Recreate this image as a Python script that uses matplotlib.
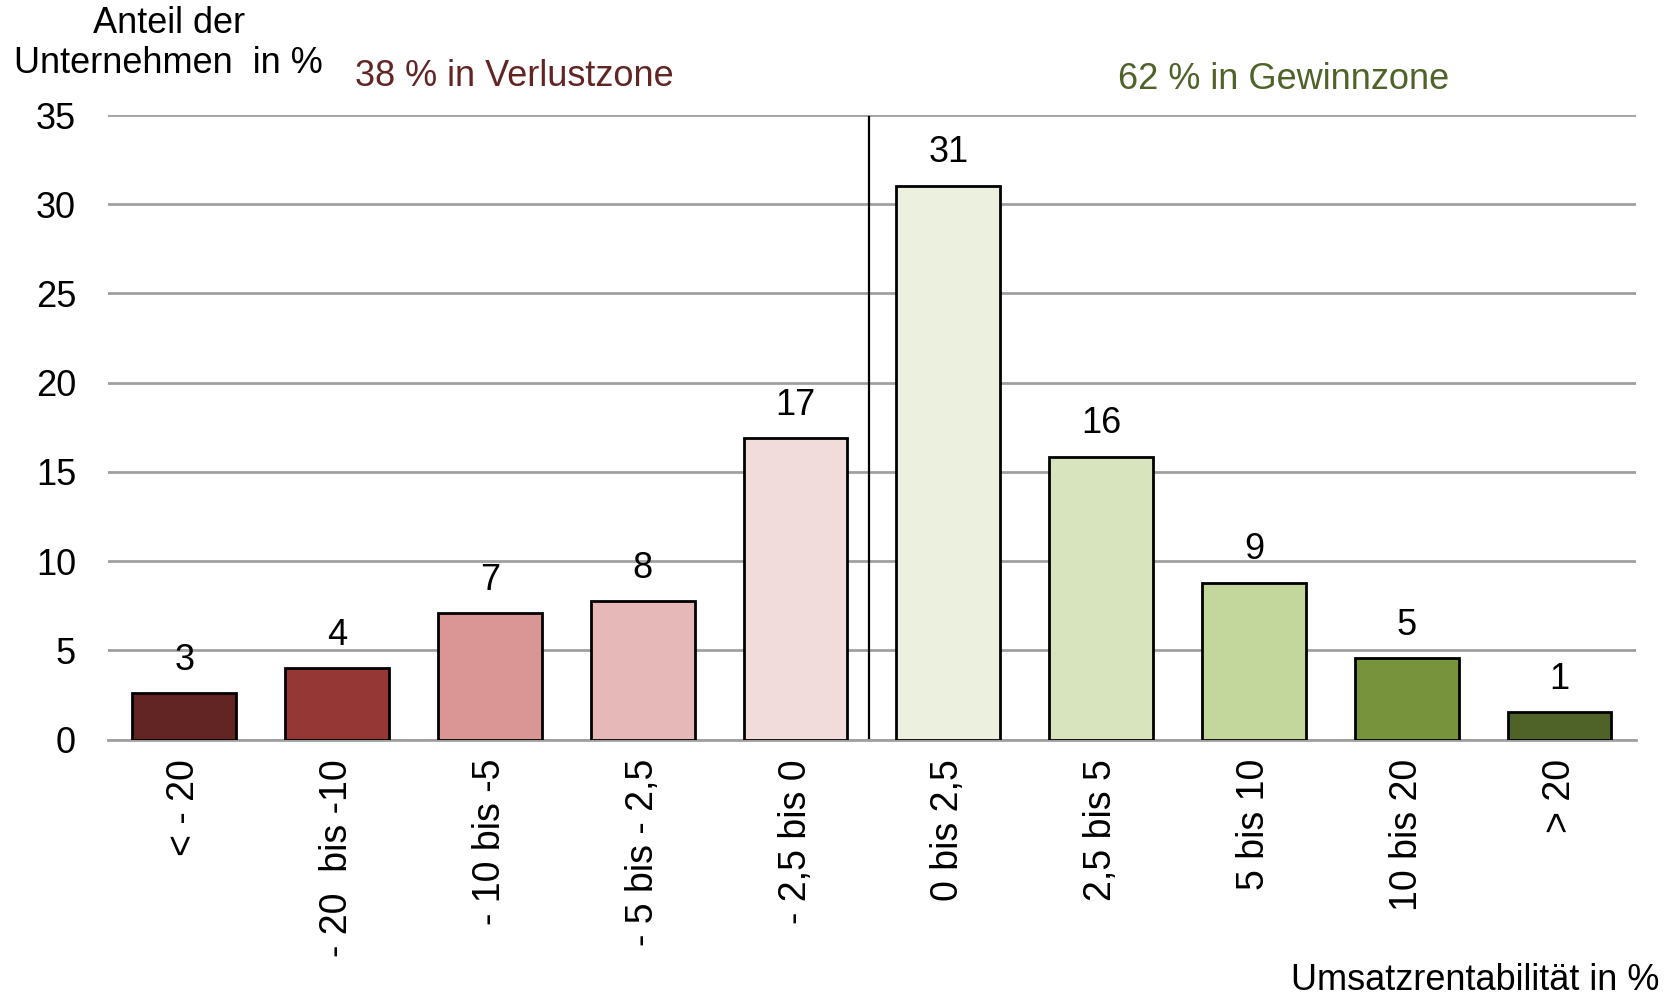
import matplotlib
matplotlib.use("Agg")
import matplotlib.pyplot as plt

plt.rcParams['font.family'] = ['Liberation Sans', 'DejaVu Sans']

categories = ["< - 20", "- 20  bis -10", "- 10 bis -5", "- 5 bis - 2,5", "- 2,5 bis 0",
              "0 bis 2,5", "2,5 bis 5", "5 bis 10", "10 bis 20", "> 20"]
values = [2.6, 4.0, 7.1, 7.75, 16.9, 31.05, 15.85, 8.8, 4.55, 1.55]
labels = ["3", "4", "7", "8", "17", "31", "16", "9", "5", "1"]
colors = ["#632523", "#953735", "#D99694", "#E6B9B8", "#F2DCDB",
          "#EBF1DE", "#D7E4BD", "#C3D69B", "#77933C", "#4F6228"]
yticks = [0, 5, 10, 15, 20, 25, 30, 35]

FS = 26

fig = plt.figure(figsize=(16.71, 9.98), dpi=100)
ax = fig.add_axes([0.0646, 0.259, 0.9144, 0.6257])

x = list(range(len(categories)))
ax.bar(x, values, width=0.68, color=colors, edgecolor="black", linewidth=2, zorder=3)
for xi, v, lab in zip(x, values, labels):
    ax.annotate(lab, (xi, v), xytext=(0, 11), textcoords="offset points",
                ha="center", va="bottom", fontsize=FS)

ax.set_xlim(-0.5, 9.5)
ax.set_ylim(0, 35)
ax.set_yticks(yticks)
ax.set_yticklabels([str(t) for t in yticks], fontsize=FS)
ax.yaxis.grid(True, color="#A0A0A0", linewidth=2, zorder=0)
ax.set_axisbelow(True)
for s in ["top", "right", "left"]:
    ax.spines[s].set_visible(False)
ax.spines["bottom"].set_color("#A0A0A0")
ax.spines["bottom"].set_linewidth(2)
ax.tick_params(axis="y", length=0, pad=23)
ax.tick_params(axis="x", length=0, pad=14)
ax.set_xticks(x)
ax.set_xticklabels(categories, rotation=90, fontsize=27, va="top", ha="center")

ax.plot([4.48, 4.48], [0.1, 34.9], color="black", linewidth=1.6, zorder=4)

fig.text(0.101, 0.9765, "Anteil der", ha="center", va="center", fontsize=FS)
fig.text(0.101, 0.936, "Unternehmen  in %", ha="center", va="center", fontsize=FS)
fig.text(0.3075, 0.923, "38 % in Verlustzone", ha="center", va="center", fontsize=FS, color="#632523")
fig.text(0.768, 0.920, "62 % in Gewinnzone", ha="center", va="center", fontsize=FS, color="#4F6228")
fig.text(0.993, 0.0176, "Umsatzrentabilität in %", ha="right", va="center", fontsize=FS)

fig.savefig("out.png", dpi=100)
